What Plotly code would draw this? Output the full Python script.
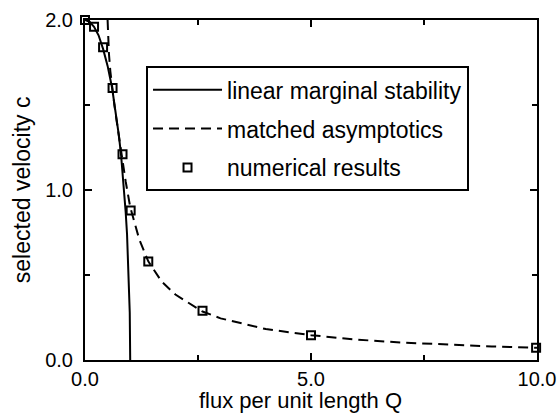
import plotly.graph_objects as go

# linear marginal stability (solid)
lin_Q = [0.0, 0.1, 0.2, 0.3, 0.4, 0.5, 0.6, 0.7, 0.75, 0.8, 0.85, 0.9, 0.93, 0.96, 0.98, 0.99, 1.0]
lin_c = [2.0, 1.99, 1.96, 1.91, 1.83, 1.73, 1.60, 1.43, 1.32, 1.20, 1.05, 0.87, 0.74, 0.56, 0.40, 0.28, 0.0]

# matched asymptotics (dashed)
asy_Q = [0.50, 0.51, 0.53, 0.56, 0.60, 0.65, 0.72, 0.80, 0.90, 1.0, 1.2, 1.4, 1.7, 2.0, 2.6, 3.0, 4.0,
         5.0, 6.0, 7.0, 8.0, 9.0, 10.0]
asy_c = [2.0, 1.9, 1.8, 1.7, 1.6, 1.5, 1.37, 1.22, 1.05, 0.90, 0.71, 0.58, 0.46, 0.385, 0.285, 0.245,
         0.182, 0.146, 0.12, 0.103, 0.09, 0.08, 0.072]

# numerical results (squares)
num_Q = [0.0, 0.2, 0.4, 0.61, 0.83, 1.01, 1.40, 2.60, 5.0, 9.98]
num_c = [2.0, 1.96, 1.84, 1.60, 1.21, 0.88, 0.58, 0.29, 0.145, 0.072]

FONT = "Liberation Sans, Arial, Helvetica, sans-serif"

fig = go.Figure()
fig.add_trace(go.Scatter(x=lin_Q, y=lin_c, mode="lines", name="linear marginal stability",
                         line=dict(color="black", width=2), legendgroup="a"))
fig.add_trace(go.Scatter(x=asy_Q, y=asy_c, mode="lines", name="matched asymptotics",
                         line=dict(color="black", width=2, dash="10px,6px"), legendgroup="b"))
fig.add_trace(go.Scatter(x=num_Q, y=num_c, mode="markers", name="numerical results",
                         marker=dict(symbol="square-open", size=8, color="black",
                                     line=dict(width=2, color="black")),
                         legendgroup="c", cliponaxis=False))

axis_common = dict(showline=True, linecolor="black", linewidth=2, mirror="ticks",
                   ticks="inside", ticklen=7, tickwidth=2, tickcolor="black",
                   showgrid=False, zeroline=False, tickformat=".1f", automargin=False,
                   tickfont=dict(family=FONT, size=20, color="black"))

fig.update_xaxes(range=[0, 10], dtick=5, tick0=0,
                 minor=dict(dtick=2.5, ticks="inside", ticklen=5, tickwidth=2, tickcolor="black"),
                 **axis_common)
fig.update_yaxes(range=[0, 2], dtick=1, tick0=0, ticklabelstandoff=6,
                 minor=dict(dtick=0.5, ticks="inside", ticklen=5, tickwidth=2, tickcolor="black"),
                 **axis_common)

fig.add_annotation(text="flux per unit length Q", xref="paper", yref="paper", x=0.476, y=-0.076,
                   showarrow=False, xanchor="center", yanchor="top",
                   font=dict(family=FONT, size=22, color="black"))
fig.add_annotation(text="selected velocity c", xref="paper", yref="paper", x=-0.139, y=0.5,
                   textangle=-90, showarrow=False, xanchor="center", yanchor="middle",
                   font=dict(family=FONT, size=23, color="black"))

fig.update_layout(
    width=560, height=413,
    margin=dict(l=85, r=23, t=20, b=53),
    paper_bgcolor="white", plot_bgcolor="white",
    font=dict(family=FONT, color="black"),
    showlegend=True,
    legend=dict(x=0.135, y=0.864, xanchor="left", yanchor="top",
                bordercolor="black", borderwidth=2, bgcolor="white",
                font=dict(family=FONT, size=23, color="black"),
                itemwidth=69, traceorder="grouped", tracegroupgap=6),
)

fig.write_html("out.html", config={"displayModeBar": False},
               post_script="document.body.style.margin='0';")
